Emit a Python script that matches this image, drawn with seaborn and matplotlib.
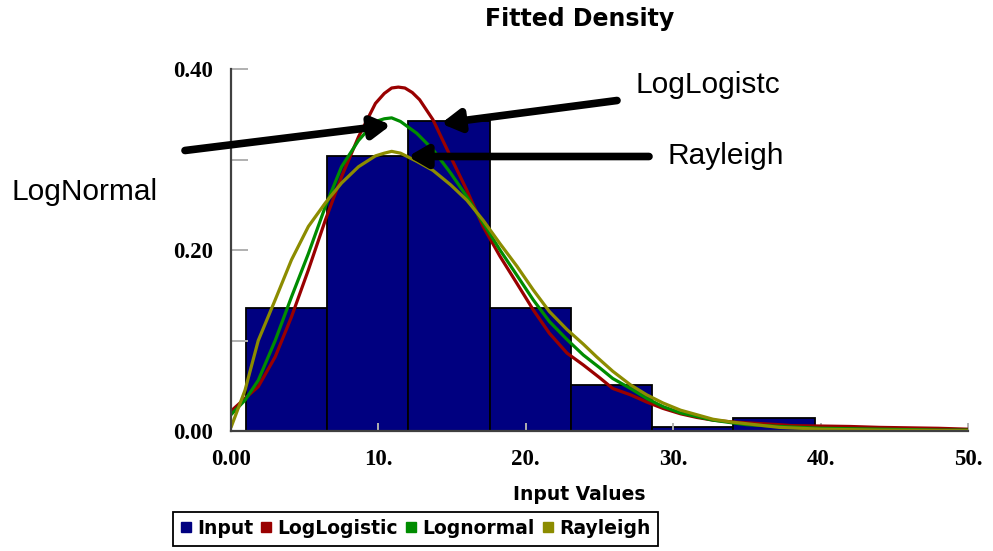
import matplotlib
matplotlib.use("Agg")
import matplotlib.pyplot as plt
from matplotlib.lines import Line2D
from matplotlib.ticker import FixedLocator, FixedFormatter
import numpy as np
import seaborn as sns

# ---------------- data ----------------
bin_edges = [1.02, 6.53, 12.04, 17.55, 23.06, 28.57, 34.08, 39.59]
bar_heights = [0.136, 0.304, 0.343, 0.136, 0.051, 0.004, 0.0145]

loglogistic_x = [0, 0.95, 1.85, 3.0, 4.1, 5.25, 6.4, 7.5, 8.65, 9.8, 10.4, 10.9, 11.35, 11.8, 12.3,
                 12.8, 13.7, 14.9, 16.0, 17.1, 18.25, 19.4, 20.5, 21.6, 22.8, 23.9, 25.0,
                 25.9, 27.1, 28.2, 29.3, 30.5, 31.6, 32.7, 34.0, 35.0, 36.1, 37.2, 38.0,
                 40.0, 42.0, 44.0, 46.0, 48.0, 50.0]
loglogistic_y = [0.022, 0.036, 0.049, 0.082, 0.126, 0.178, 0.233, 0.281, 0.325, 0.362, 0.373, 0.379,
                 0.380, 0.379, 0.374, 0.366, 0.344, 0.303, 0.266, 0.226, 0.193, 0.163, 0.134, 0.108,
                 0.086, 0.073, 0.059, 0.047, 0.040, 0.032, 0.025, 0.019, 0.015, 0.012, 0.010,
                 0.009, 0.008, 0.007, 0.006, 0.0055, 0.005, 0.004, 0.0035, 0.003, 0.002]

lognormal_x = [0, 0.95, 1.85, 3.0, 4.1, 5.25, 6.4, 7.5, 8.65, 9.8, 10.4, 10.9, 11.5, 12.6, 13.7,
               14.9, 16.0, 17.1, 18.25, 19.4, 20.5, 21.6, 22.8, 23.9, 25.0, 25.9, 27.1, 28.2,
               29.3, 30.5, 31.6, 32.7, 34.0, 35.0, 37.2, 40.0, 42.0, 44.0, 46.0, 48.0, 50.0]
lognormal_y = [0.018, 0.034, 0.056, 0.100, 0.148, 0.196, 0.248, 0.292, 0.321, 0.342, 0.345, 0.346,
               0.342, 0.329, 0.311, 0.285, 0.259, 0.230, 0.200, 0.172, 0.145, 0.121, 0.101,
               0.084, 0.070, 0.058, 0.047, 0.036, 0.027, 0.020, 0.016, 0.012, 0.009, 0.007,
               0.005, 0.003, 0.0025, 0.002, 0.0015, 0.001, 0.001]

rayleigh_x = [0, 0.95, 1.85, 3.0, 4.1, 5.25, 6.4, 7.5, 8.65, 9.8, 10.4, 10.9, 11.5, 12.6, 13.7,
              14.9, 16.0, 17.1, 18.25, 19.4, 20.5, 21.6, 22.8, 23.9, 24.8, 25.9, 27.1, 28.2,
              29.3, 30.5, 31.6, 32.7, 33.9, 35.0, 36.1, 37.2, 40.0, 42.0, 44.0, 46.0, 48.0, 50.0]
rayleigh_y = [0.004, 0.045, 0.100, 0.145, 0.189, 0.226, 0.252, 0.274, 0.292, 0.304, 0.307, 0.309,
              0.307, 0.298, 0.288, 0.272, 0.255, 0.233, 0.207, 0.182, 0.156, 0.132, 0.112,
              0.096, 0.082, 0.066, 0.051, 0.040, 0.031, 0.023, 0.018, 0.013, 0.010, 0.008,
              0.006, 0.004, 0.002, 0.0015, 0.001, 0.0008, 0.0005, 0.0003]

x_ticks = [0, 10, 20, 30, 40, 50]
x_tick_labels = ["0.00", "10.", "20.", "30.", "40.", "50."]
y_ticks = [0.0, 0.1, 0.2, 0.3, 0.4]
y_tick_labels = ["0.00", "", "0.20", "", "0.40"]

legend_labels = ["Input", "LogLogistic", "Lognormal", "Rayleigh"]
title = "Fitted Density"
x_label = "Input Values"

# ---------------- style ----------------
C_BAR = "#000080"
C_RED = "#990000"
C_GREEN = "#008C00"
C_OLIVE = "#8C8C00"

sns.set_style("white")
plt.rcParams["font.family"] = ["DejaVu Sans"]
plt.rcParams["text.color"] = "black"

W, H = 993, 551
fig = plt.figure(figsize=(W / 100, H / 100), dpi=100)
ax = fig.add_axes([231 / W, 1 - 431 / H, (968 - 231) / W, (431 - 69) / H])

centers = [(a + b) / 2 for a, b in zip(bin_edges[:-1], bin_edges[1:])]
sns.histplot(x=centers, weights=bar_heights, bins=bin_edges, stat="count",
             color=C_BAR, edgecolor="black", linewidth=1.3, alpha=1, ax=ax, zorder=2)

sns.lineplot(x=loglogistic_x, y=loglogistic_y, color=C_RED, lw=2.3, ax=ax, zorder=3)
sns.lineplot(x=lognormal_x, y=lognormal_y, color=C_GREEN, lw=2.3, ax=ax, zorder=4)
sns.lineplot(x=rayleigh_x, y=rayleigh_y, color=C_OLIVE, lw=2.3, ax=ax, zorder=5)

ax.set_xlim(0, 50)
ax.set_ylim(0, 0.40)
ax.set_xlabel("")
ax.set_ylabel("")

ax.xaxis.set_major_locator(FixedLocator(x_ticks))
ax.xaxis.set_major_formatter(FixedFormatter(x_tick_labels))
ax.yaxis.set_major_locator(FixedLocator(y_ticks))
ax.yaxis.set_major_formatter(FixedFormatter(y_tick_labels))

ax.set_axisbelow(False)
ax.tick_params(axis="both", which="major", direction="in", width=1.4,
               color="#B0B0B0", labelcolor="black", pad=13,
               bottom=True, left=True, top=False, right=False)
ax.tick_params(axis="x", length=6)
ax.tick_params(axis="y", length=12.5)
for lab in ax.get_xticklabels() + ax.get_yticklabels():
    lab.set_fontfamily("Liberation Serif")
    lab.set_fontweight("bold")
    lab.set_fontsize(16.5)

for s in ["top", "right"]:
    ax.spines[s].set_visible(False)
for s in ["left", "bottom"]:
    ax.spines[s].set_color("#404040")
    ax.spines[s].set_linewidth(1.6)
    ax.spines[s].set_zorder(7)

# title and axis label
fig.text(580 / W, 1 - 26 / H, title, ha="center", va="baseline",
         fontsize=17, fontweight="bold", family="DejaVu Sans", color="black")
fig.text(579 / W, 1 - 500 / H, x_label, ha="center", va="baseline",
         fontsize=13.5, fontweight="bold", family="DejaVu Sans", color="black")

# legend
handles = [Line2D([], [], marker="s", linestyle="none", markersize=6.5,
                  markerfacecolor=c, markeredgecolor=c)
           for c in [C_BAR, C_RED, C_GREEN, C_OLIVE]]
leg = fig.legend(handles, legend_labels, loc="upper left",
                 bbox_to_anchor=(172.5 / W, 1 - 511.5 / H), ncol=4, frameon=True,
                 fancybox=False, edgecolor="black", framealpha=1,
                 prop={"family": "DejaVu Sans", "weight": "bold", "size": 13.5},
                 handlelength=0.6, handletextpad=0.3, columnspacing=0.4,
                 borderpad=0.4, borderaxespad=0, labelcolor="black")
leg.get_frame().set_linewidth(1.3)

# annotations
def px2data(px, py):
    return ((px - 231) / (968 - 231) * 50, (431 - py) / (431 - 69) * 0.40)

arrow_style = dict(arrowstyle="-|>,head_length=0.55,head_width=0.32", lw=5.5,
                   color="black", mutation_scale=20, shrinkA=0, shrinkB=0)
arrows = [((391, 125), (185, 150.5)),
          ((441, 123.5), (617, 100.5)),
          ((408, 156.5), (649, 156.5))]
for tip, tail in arrows:
    ax.annotate("", xy=px2data(*tip), xytext=px2data(*tail), xycoords="data",
                textcoords="data", arrowprops=arrow_style, annotation_clip=False,
                zorder=10)

ann_font = dict(family="Liberation Sans", fontsize=21.5, va="baseline", ha="left",
                color="black")
fig.text(12 / W, 1 - 200 / H, "LogNormal", **ann_font)
fig.text(636 / W, 1 - 93 / H, "LogLogistc", **ann_font)
fig.text(668 / W, 1 - 164 / H, "Rayleigh", **ann_font)

fig.savefig("out.png", dpi=100)
